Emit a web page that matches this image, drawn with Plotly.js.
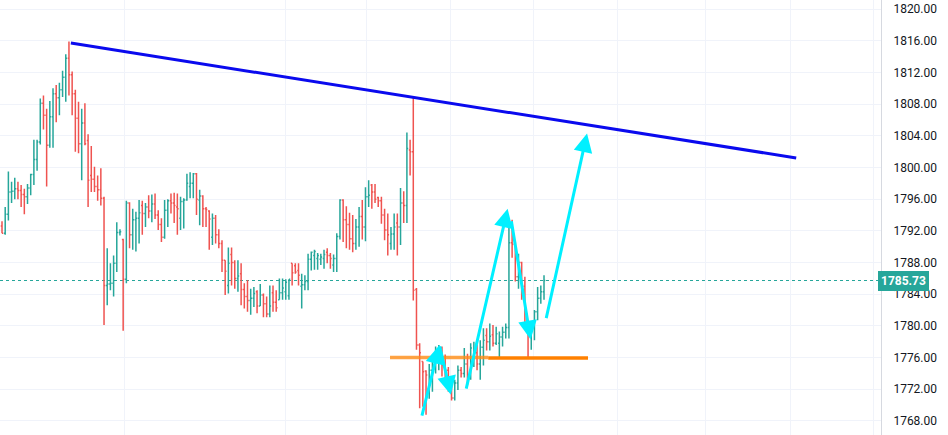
<!DOCTYPE html>
<html>
<head>
<meta charset="utf-8">
<script src="https://cdn.plot.ly/plotly-3.0.1.min.js"></script>
<style>
  html, body { margin: 0; padding: 0; background: #ffffff; }
  #chart { width: 948px; height: 435px; }
</style>
</head>
<body>
<div id="chart"></div>
<script>
// ---- OHLC data (hourly bars) ----
const openP = [1792.6,1791.7,1794.1,1796.9,1797.0,1797.3,1797.1,1796.6,1796.3,1797.4,1799.1,1801.0,1803.2,1808.1,1806.6,1802.8,1806.4,1809.3,1808.8,1809.8,1811.4,1813.8,1811.7,1809.3,1806.2,1803.0,1805.6,1803.4,1799.0,1798.5,1797.6,1797.2,1796.1,1785.1,1785.3,1785.4,1787.9,1791.8,1790.9,1785.9,1795.5,1791.5,1793.4,1793.6,1795.2,1794.2,1795.0,1794.5,1795.4,1794.0,1792.8,1791.2,1794.6,1795.8,1795.5,1795.0,1793.6,1795.7,1795.9,1797.6,1798.0,1799.2,1795.9,1796.4,1794.8,1794.5,1791.2,1793.6,1791.5,1790.4,1788.3,1785.1,1789.0,1788.0,1786.0,1786.6,1784.6,1783.7,1783.2,1783.5,1784.3,1782.5,1783.9,1782.8,1781.5,1784.2,1783.0,1783.3,1784.2,1784.3,1783.8,1787.9,1787.6,1787.0,1785.0,1785.2,1785.6,1788.4,1788.9,1788.5,1788.4,1788.5,1789.3,1788.9,1787.7,1788.5,1791.3,1795.9,1793.4,1792.8,1791.0,1790.4,1792.5,1793.8,1792.5,1796.3,1797.8,1796.9,1796.2,1795.8,1794.0,1792.1,1790.4,1791.6,1793.0,1792.5,1795.5,1795.2,1802.2,1802.0,1784.6,1777.6,1775.5,1774.3,1772.0,1774.4,1774.6,1776.1,1777.2,1775.0,1774.4,1772.7,1770.9,1772.8,1774.4,1774.0,1775.2,1773.8,1775.9,1776.6,1775.2,1777.3,1778.8,1778.0,1778.9,1777.8,1777.8,1778.6,1779.2,1779.8,1790.5,1790.3,1786.2,1788.0,1785.0,1780.1,1779.0,1780.0,1781.8,1783.5,1784.3];
const highP = [1793.2,1795.0,1799.5,1798.2,1798.7,1798.2,1797.8,1797.3,1797.9,1799.2,1803.5,1803.5,1808.7,1809.1,1807.4,1808.4,1810.0,1810.4,1810.7,1812.2,1814.3,1815.9,1812.1,1809.8,1808.3,1807.4,1808.1,1804.2,1802.7,1800.1,1799.0,1799.9,1796.3,1789.8,1787.9,1788.9,1793.1,1792.2,1791.0,1795.8,1795.6,1794.8,1794.4,1795.9,1795.8,1795.5,1796.5,1796.6,1796.7,1794.6,1793.6,1795.9,1796.0,1796.7,1796.8,1796.7,1796.3,1796.1,1799.2,1799.4,1799.3,1799.3,1797.2,1796.5,1795.0,1794.6,1794.2,1794.0,1792.2,1790.8,1788.3,1789.9,1789.9,1788.3,1788.3,1787.9,1785.4,1785.8,1784.7,1784.9,1784.5,1785.3,1784.1,1783.7,1785.1,1785.1,1784.5,1786.0,1786.0,1785.9,1785.9,1787.9,1787.9,1787.9,1786.6,1786.4,1789.1,1789.4,1789.6,1789.2,1789.1,1789.6,1789.8,1789.2,1789.0,1791.7,1796.0,1796.0,1795.1,1794.3,1794.0,1793.5,1795.0,1795.9,1797.5,1798.4,1797.9,1797.9,1796.3,1796.3,1794.8,1794.2,1792.5,1794.2,1794.2,1797.4,1797.0,1804.4,1803.5,1809.0,1784.8,1777.8,1775.5,1774.4,1775.2,1776.1,1777.4,1777.6,1777.4,1776.4,1774.8,1773.6,1773.2,1775.0,1774.8,1777.2,1776.5,1777.8,1778.0,1777.6,1778.2,1779.7,1779.7,1780.3,1780.1,1779.9,1779.3,1779.9,1780.3,1793.4,1793.4,1790.6,1789.1,1788.1,1786.2,1780.6,1780.3,1782.0,1784.9,1785.1,1786.4];
const lowP = [1791.7,1791.5,1793.3,1795.5,1796.0,1796.0,1795.0,1794.1,1795.4,1796.5,1797.8,1799.6,1802.9,1804.8,1797.6,1802.5,1802.5,1805.7,1806.6,1808.9,1808.3,1809.1,1806.6,1802.0,1801.8,1798.4,1802.8,1795.0,1796.9,1796.9,1795.8,1795.2,1780.1,1782.6,1784.5,1783.7,1786.8,1791.4,1779.4,1785.4,1789.8,1789.6,1789.4,1790.4,1791.5,1792.5,1793.6,1793.1,1793.5,1792.1,1790.6,1791.0,1792.5,1794.2,1793.0,1791.5,1792.1,1792.3,1795.8,1796.1,1796.1,1794.0,1792.7,1792.5,1792.5,1789.6,1790.2,1790.4,1789.8,1786.8,1783.9,1784.1,1785.1,1784.7,1784.3,1782.6,1782.2,1781.8,1781.4,1782.4,1781.6,1782.5,1781.1,1781.1,1781.1,1781.8,1781.8,1783.3,1783.3,1783.3,1783.3,1785.1,1786.6,1785.1,1782.2,1784.5,1784.5,1787.0,1787.1,1787.1,1787.7,1787.2,1787.9,1787.2,1786.8,1786.8,1790.9,1790.6,1789.8,1789.6,1789.3,1789.6,1790.0,1790.9,1790.7,1795.0,1794.8,1795.5,1795.0,1792.9,1790.8,1788.9,1789.6,1789.6,1788.9,1790.2,1793.0,1793.0,1799.0,1783.2,1777.0,1769.6,1769.8,1768.8,1770.8,1771.7,1774.0,1774.4,1773.6,1772.5,1771.7,1770.6,1770.6,1771.9,1773.5,1773.5,1772.5,1773.2,1774.8,1774.4,1773.2,1775.0,1776.9,1776.9,1777.4,1777.6,1776.0,1777.4,1778.4,1778.4,1788.6,1785.6,1784.7,1783.3,1779.9,1775.9,1777.0,1778.2,1780.7,1782.8,1783.3];
const closeP = [1791.7,1794.1,1796.9,1797.0,1797.3,1797.1,1796.6,1796.3,1797.4,1799.1,1801.0,1803.2,1808.1,1806.6,1802.8,1806.4,1809.3,1808.8,1809.8,1811.4,1813.8,1811.7,1809.3,1806.2,1803.0,1805.6,1803.0,1798.4,1798.5,1797.6,1797.2,1796.1,1785.1,1785.3,1785.4,1787.9,1791.8,1791.9,1785.9,1795.5,1791.5,1793.4,1793.6,1794.3,1794.2,1795.0,1794.5,1795.4,1794.0,1792.8,1791.2,1794.6,1795.8,1795.5,1795.2,1794.8,1795.7,1795.9,1798.0,1798.0,1799.2,1796.0,1796.4,1794.8,1794.7,1793.5,1793.6,1791.5,1790.4,1788.3,1786.9,1787.9,1788.0,1786.0,1786.3,1784.6,1783.7,1783.2,1783.5,1784.1,1782.5,1783.9,1782.8,1781.5,1782.5,1783.0,1782.3,1784.2,1784.8,1785.5,1785.9,1786.7,1786.8,1786.4,1785.2,1785.6,1788.4,1789.3,1789.4,1788.9,1788.7,1789.0,1788.9,1788.5,1788.5,1791.3,1795.9,1793.4,1792.8,1791.0,1790.4,1792.5,1793.8,1792.5,1796.3,1796.5,1796.9,1796.0,1795.8,1794.0,1792.1,1791.5,1791.6,1792.5,1792.5,1795.5,1795.2,1802.4,1802.0,1784.5,1777.6,1776.6,1774.2,1773.8,1774.4,1774.6,1776.1,1777.2,1775.0,1774.4,1772.7,1770.9,1772.8,1774.4,1774.0,1775.2,1773.8,1777.2,1776.6,1775.2,1777.3,1778.2,1778.0,1778.7,1777.8,1779.0,1778.6,1779.2,1779.8,1790.5,1790.3,1786.2,1788.0,1785.0,1780.1,1779.0,1780.0,1781.8,1783.5,1784.3,1785.73];
const lastPrice = 1785.73;
const priceTicks = [1768,1772,1776,1780,1784,1788,1792,1796,1800,1804,1808,1812,1816,1820];
const dayMarks = [38.3, 88.8, 114.2, 140.8, 166.6, 193.2, 220.5, 247.2, 273.5];

// ---- drawings (bar index, price) ----
const trendTop = {x0: 21.6, y0: 1815.7, x1: 249.1, y1: 1801.2};
const supportA = {x0: 121.7, x1: 152.5, y: 1776.0};
const supportB = {x0: 152.5, x1: 183.8, y: 1775.95};
const arrows = [
  {ax: 131.6, ay: 1768.5, x: 137.2, y: 1777.6},
  {ax: 137.2, ay: 1777.6, x: 140.8, y: 1771.3},
  {ax: 145.5, ay: 1771.9, x: 158.6, y: 1794.8},
  {ax: 159.7, ay: 1793.4, x: 165.8, y: 1778.3},
  {ax: 170.6, ay: 1780.8, x: 183.5, y: 1804.3}
];

const idx = closeP.map((_, i) => i);
const UP = '#26a69a', DOWN = '#ef5350';
const GRID = '#f0f3fa';

const trace = {
  type: 'ohlc',
  x: idx, open: openP, high: highP, low: lowP, close: closeP,
  increasing: {line: {color: UP, width: 1.5}},
  decreasing: {line: {color: DOWN, width: 1.5}},
  tickwidth: 0.4,
  hoverinfo: 'skip',
  showlegend: false
};

const shapes = [
  {type: 'line', xref: 'paper', x0: 0, x1: 1, yref: 'y', y0: lastPrice, y1: lastPrice,
   line: {color: UP, width: 1.2, dash: 'dot'}, layer: 'below'},
  {type: 'line', xref: 'x', yref: 'y', x0: trendTop.x0, y0: trendTop.y0, x1: trendTop.x1, y1: trendTop.y1,
   line: {color: '#0a0aee', width: 3}},
  {type: 'line', xref: 'x', yref: 'y', x0: supportA.x0, y0: supportA.y, x1: supportA.x1, y1: supportA.y,
   line: {color: 'rgba(255,140,20,0.8)', width: 3.5}},
  {type: 'line', xref: 'x', yref: 'y', x0: supportB.x0, y0: supportB.y, x1: supportB.x1, y1: supportB.y,
   line: {color: '#ff8000', width: 3.5}}
];

const annotations = arrows.map(a => ({
  xref: 'x', yref: 'y', axref: 'x', ayref: 'y',
  x: a.x, y: a.y, ax: a.ax, ay: a.ay, text: '',
  showarrow: true, arrowhead: 2, arrowsize: 1.25, arrowwidth: 3, arrowcolor: '#00f0ff',
  standoff: 0, startstandoff: 0
}));
annotations.push({
  xref: 'paper', x: 1, xanchor: 'left', xshift: -3, yref: 'y', y: lastPrice, yanchor: 'middle',
  text: '<b>' + lastPrice.toFixed(2) + '</b>', showarrow: false,
  bgcolor: UP, bordercolor: UP, borderpad: 2,
  font: {family: 'Roboto, "Liberation Sans", sans-serif', size: 12, color: '#ffffff'}
});

const layout = {
  width: 948, height: 435,
  margin: {l: 0, r: 67, t: 0, b: 0, pad: 0},
  paper_bgcolor: '#ffffff', plot_bgcolor: '#ffffff',
  showlegend: false,
  dragmode: false,
  xaxis: {
    range: [-0.63, 275.7],
    tickmode: 'array', tickvals: dayMarks, showticklabels: false, ticks: '',
    showgrid: true, gridcolor: GRID, gridwidth: 1,
    zeroline: false, showline: false,
    rangeslider: {visible: false}, fixedrange: true
  },
  yaxis: {
    side: 'right',
    range: [1766.23, 1821.14],
    tickmode: 'array', tickvals: priceTicks, ticktext: priceTicks.map(v => v.toFixed(2)),
    ticks: '', ticklabelstandoff: 9,
    tickfont: {family: 'Roboto, "Liberation Sans", sans-serif', size: 12, color: '#131722'},
    showgrid: true, gridcolor: GRID, gridwidth: 1,
    zeroline: false, showline: true, linecolor: '#d6d9e0', linewidth: 1,
    fixedrange: true
  },
  shapes: shapes,
  annotations: annotations
};

Plotly.newPlot('chart', [trace], layout, {displayModeBar: false, staticPlot: true});
</script>
</body>
</html>
